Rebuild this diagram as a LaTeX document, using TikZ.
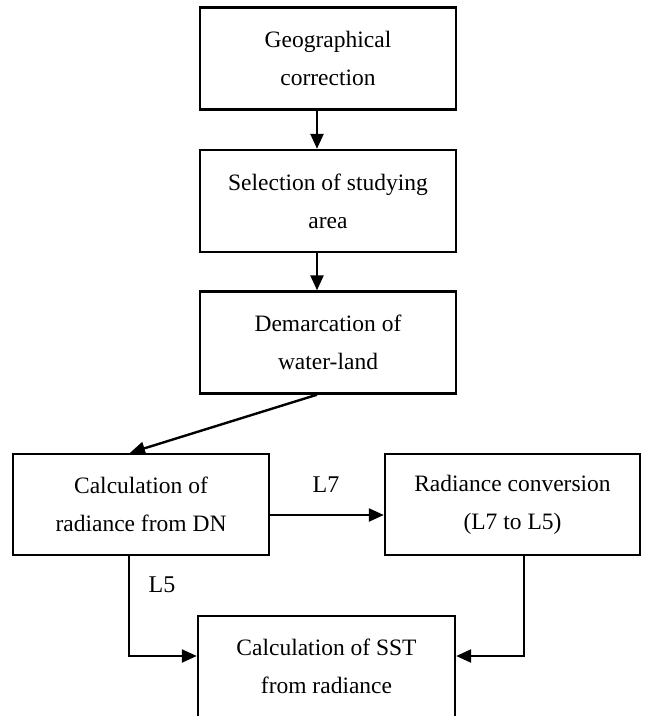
\documentclass[tikz,border=0pt]{standalone}
\usepackage{fontspec}
\setmainfont{Liberation Serif}
\usetikzlibrary{arrows.meta}
\begin{document}
\begin{tikzpicture}[x=1pt,y=-1pt,
  box/.style={draw,line width=2.4pt,minimum width=256pt,minimum height=102pt,align=center,inner sep=0pt,font=\fontsize{23.5}{38}\selectfont},
  lbl/.style={font=\fontsize{24}{28}\selectfont,inner sep=0pt},
  arr/.style={line width=2.4pt,-{Triangle[length=15pt,width=13pt]}}]
\useasboundingbox (0,0) rectangle (646,716);
\clip (0,0) rectangle (646,716);
\node[box] (b1) at (328,58.5) {Geographical\\correction};
\node[box] (b2) at (328,201) {Selection of studying\\area};
\node[box] (b3) at (328,342.5) {Demarcation of\\water-land};
\node[box,minimum width=256pt,minimum height=101pt] (b4) at (141,504.5) {Calculation of\\radiance from DN};
\node[box,minimum width=255pt,minimum height=101pt] (b5) at (512.5,504.5) {Radiance conversion\\(L7 to L5)};
\node[box,minimum width=257pt,minimum height=101pt] (b6) at (326.5,666.5) {Calculation of SST\\from radiance};
\draw[arr] ([xshift=-11pt]b1.south) -- ([xshift=-11pt]b2.north);
\draw[arr] ([xshift=-11pt]b2.south) -- ([xshift=-11pt]b3.north);
\draw[arr] ([xshift=-11pt]b3.south) -- ([xshift=-11pt]b4.north);
\draw[arr] ([yshift=-10.5pt]b4.east) -- ([yshift=-10.5pt]b5.west);
\draw[arr] ([xshift=-12pt]b4.south) |- ([yshift=10.5pt]b6.west);
\draw[arr] ([xshift=11.5pt]b5.south) |- ([yshift=10.5pt]b6.east);
\node[lbl] (l7) at (326,485) {L7};
\node[lbl] (l5) at (162,585) {L5};
\end{tikzpicture}
\end{document}
